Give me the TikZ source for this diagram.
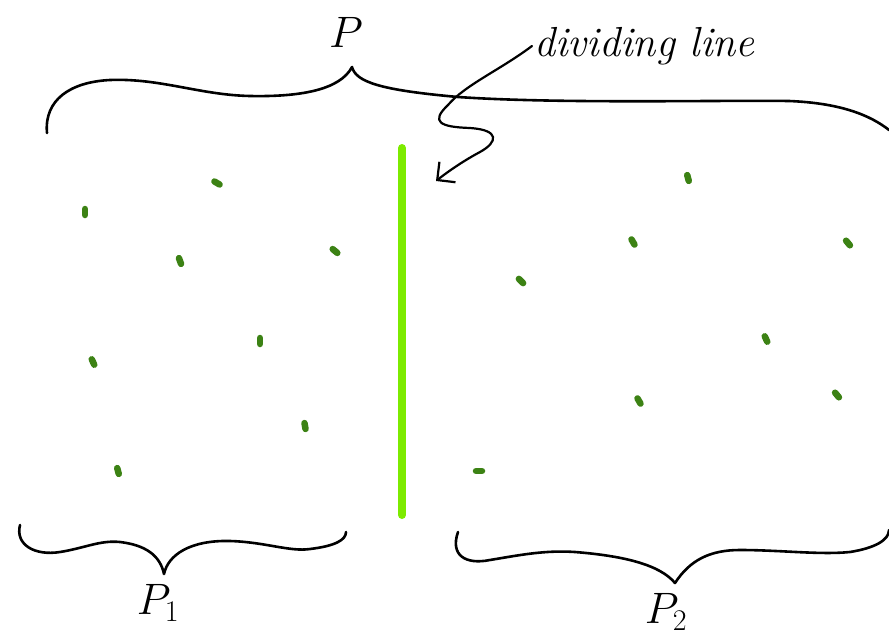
\RequirePackage{fix-cm}
\documentclass[tikz,border=0pt]{standalone}
\usetikzlibrary{arrows.meta}
\DeclareMathSizes{44}{44}{30}{22}
\definecolor{dotgreen}{RGB}{60,130,20}
\definecolor{linegreen}{RGB}{125,235,0}
\tikzset{
  brace/.style={line width=2.6pt, line cap=round, line join=round, black},
  dot/.style={line width=6.5pt, line cap=round, dotgreen},
  lbl/.style={inner sep=0pt, font=\fontsize{44}{48}\selectfont},
}
\begin{document}
\begin{tikzpicture}[x=1pt,y=-1pt]
\useasboundingbox (0,0) rectangle (889,640);
% top brace
\draw[brace] (47,133) .. controls (44,100) and (70,82) .. (110,80)
  .. controls (160,78) and (200,95) .. (250,96)
  .. controls (300,97) and (340,90) .. (352,67)
  .. controls (356,82) and (380,90) .. (458,97)
  .. controls (560,104) and (720,100) .. (789,101)
  .. controls (840,103) and (870,115) .. (889,130);
\node[lbl] (P) at (346,32) {$P$};
% dividing line
\draw[linegreen, line width=8pt, line cap=round] (402,148) -- (402,515);
\coordinate (tgt) at (436,181);
\node[inner sep=2pt, anchor=west, font=\fontsize{42}{46}\selectfont\itshape] (dl) at (532,46) {dividing line};
\draw[line width=2.2pt, line cap=round, -{Straight Barb[length=13pt,width=26pt,line width=2.2pt]}]
  (dl.west) .. controls (500,70) and (465,85) .. (448,105)
  .. controls (430,122) and (440,127) .. (470,128)
  .. controls (500,130) and (498,142) .. (480,152)
  .. controls (465,160) and (450,170) .. (tgt);
% dots
\foreach \x/\y/\a in {85/212/90, 217/183/30, 180/261/70, 335/251/40, 93/362/65, 260/341/90, 305/426/80, 118/471/75,
  688/178/75, 633/242/60, 848/243/50, 521/281/45, 766/339/65, 639/401/60, 837/395/50, 479/471/0}
  \draw[dot] (\x,\y) ++(\a:3) -- ++(\a+180:6);
% bottom left brace
\draw[brace] (20,525) .. controls (15,545) and (35,556) .. (60,552)
  .. controls (85,548) and (100,540) .. (120,542)
  .. controls (145,545) and (160,555) .. (164,574)
  .. controls (168,555) and (190,540) .. (230,541)
  .. controls (265,542) and (290,552) .. (310,549)
  .. controls (335,546) and (346,540) .. (346,532);
\node[lbl] (P1) at (158,603) {$P_1$};
% bottom right brace
\draw[brace] (458,532) .. controls (450,555) and (465,565) .. (490,560)
  .. controls (520,555) and (545,550) .. (575,552)
  .. controls (625,556) and (660,565) .. (675,583)
  .. controls (690,560) and (710,550) .. (740,550)
  .. controls (780,550) and (820,555) .. (850,552)
  .. controls (875,548) and (889,540) .. (889,530);
\node[lbl] (P2) at (666,612) {$P_2$};
\end{tikzpicture}
\end{document}
